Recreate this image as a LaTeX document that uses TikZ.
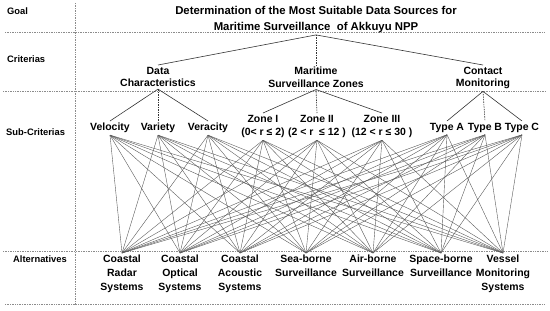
\documentclass[tikz,border=0pt]{standalone}
\usepackage{fontspec}
\setmainfont{Liberation Sans}
\begin{document}
\begin{tikzpicture}[x=1bp,y=-1bp,
  every node/.style={font=\bfseries, inner sep=2pt},
  rowlab/.style={anchor=base west, inner sep=0pt, font=\fontsize{9.4}{11}\selectfont\bfseries},
  title/.style={anchor=north, align=center, font=\fontsize{11.4}{16}\selectfont\bfseries},
  crit/.style={anchor=north, align=center, font=\fontsize{10.5}{12.5}\selectfont\bfseries},
  sub/.style={anchor=north, align=center, font=\fontsize{10.5}{13.5}\selectfont\bfseries},
  alt/.style={anchor=north, align=center, font=\fontsize{10.5}{14}\selectfont\bfseries},
  sep/.style={densely dotted, line width=0.7pt, black!45},
  hier/.style={line width=0.6pt, black!80},
  hierd/.style={hier, dash pattern=on 1.5pt off 1pt},
  link/.style={line width=0.4pt, black!65}
]
\useasboundingbox (0,0) rectangle (550,310);

% separators
\draw[sep] (75,3) -- (75,306);
\draw[sep] (5,32) -- (545,32);
\draw[sep] (3,91) -- (545,91);
\draw[sep] (3,251) -- (547,251);
\draw[sep] (5,304) -- (545,304);

% row labels
\node[rowlab] (lgoal) at (7,14) {Goal};
\node[rowlab] (lcrit) at (7,62) {Criterias};
\node[rowlab] (lsub) at (6,135.5) {Sub-Criterias};
\node[rowlab] (lalt) at (13,262) {Alternatives};

% goal
\node[title] (goal) at (316,4) {Determination of the Most Suitable Data Sources for\\Maritime Surveillance\ \ of Akkuyu NPP};

% criteria
\node[crit] (dc) at (158,65) {Data\\Characteristics};
\node[crit] (msz) at (316,65) {Maritime\\Surveillance Zones};
\node[crit] (cm) at (483,65) {Contact\\Monitoring};

% sub-criteria
\node[sub] (vel) at (110,121) {Velocity};
\node[sub] (var) at (158,121) {Variety};
\node[sub] (ver) at (208,121) {Veracity};
\node[sub] (z1) at (263,113) {Zone I\\(0< r ≤ 2)};
\node[sub] (z2) at (317,113) {Zone II\\(2 < r\ \ ≤ 12 )};
\node[sub] (z3) at (382,113) {Zone III\\(12 < r ≤ 30 )};
\node[sub] (ta) at (447,121) {Type A};
\node[sub] (tb) at (485,121) {Type B};
\node[sub] (tc) at (522,121) {Type C};

% alternatives
\node[alt] (radar) at (122,253) {Coastal\\Radar\\Systems};
\node[alt] (optical) at (180,253) {Coastal\\Optical\\Systems};
\node[alt] (acoustic) at (240,253) {Coastal\\Acoustic\\Systems};
\node[alt] (sea) at (306,253) {Sea-borne\\Surveillance};
\node[alt] (air) at (373,253) {Air-borne\\Surveillance};
\node[alt] (space) at (441,253) {Space-borne\\Surveillance};
\node[alt] (vessel) at (503,253) {Vessel\\Monitoring\\Systems};

% hierarchy
\draw[hier] (goal.south) -- (dc.north);
\draw[hierd] (goal.south) -- (msz.north);
\draw[hier] (goal.south) -- (cm.north);
\draw[hier] (dc.south) -- (vel.north);
\draw[hierd] (dc.south) -- (var.north);
\draw[hier] (dc.south) -- (ver.north);
\draw[hier] (msz.south) -- (z1.north);
\draw[hierd] (msz.south) -- (z2.north);
\draw[hier] (msz.south) -- (z3.north);
\draw[hier] (cm.south) -- (ta.north);
\draw[hierd] (cm.south) -- (tb.north);
\draw[hier] (cm.south) -- (tc.north);

% links
\foreach \s in {vel,var,ver,z1,z2,z3,ta,tb,tc}
  \foreach \a in {radar,optical,acoustic,sea,air,space,vessel}
    \draw[link] (\s.south) -- (\a.north);
\end{tikzpicture}
\end{document}
